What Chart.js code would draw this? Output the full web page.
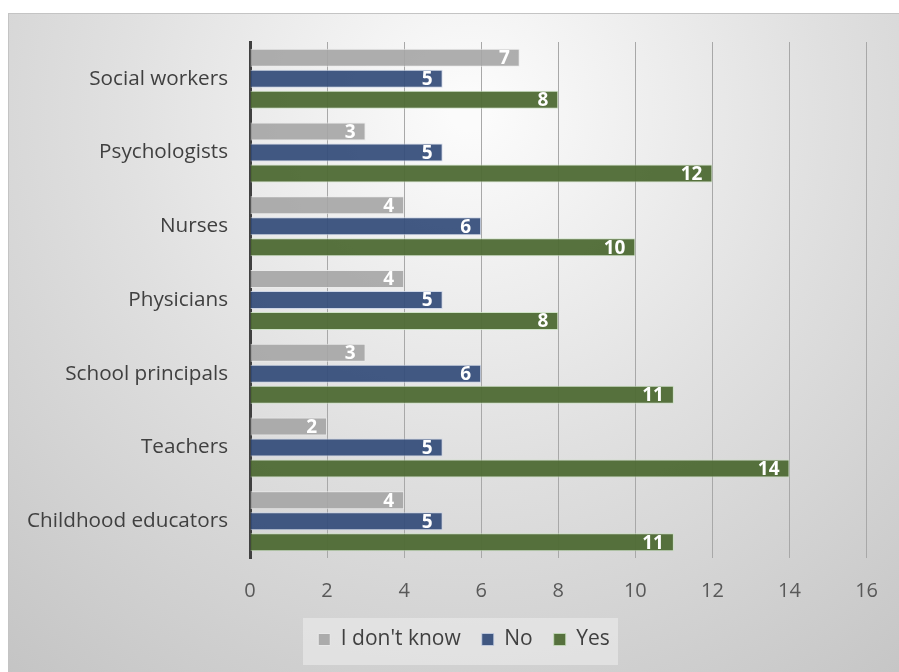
<!DOCTYPE html>
<html>
<head>
<meta charset="utf-8">
<script src="https://cdn.jsdelivr.net/npm/chart.js@4.4.1/dist/chart.umd.min.js"></script>
<style>
html,body{margin:0;padding:0;background:#fff;}
#wrap{width:899px;height:672px;position:relative;}
</style>
</head>
<body>
<div id="wrap"><canvas id="c" width="899" height="672"></canvas></div>
<script>
const categories = ["Social workers","Psychologists","Nurses","Physicians","School principals","Teachers","Childhood educators"];
const dontKnow = [7,3,4,4,3,2,4];
const noVals = [5,5,6,5,6,5,5];
const yesVals = [8,12,10,8,11,14,11];
const xTicks = [0,2,4,6,8,10,12,14,16];

const bgPlugin = {
  id:'bg',
  afterLayout(chart){
    if(chart.legend){ chart.legend.left += 25; chart.legend.right += 25; }
  },
  beforeDraw(chart){
    const ctx = chart.ctx;
    ctx.save();
    ctx.fillStyle='#ffffff';
    ctx.fillRect(0,0,chart.width,chart.height);
    const g = ctx.createRadialGradient(470,110,20,470,110,760);
    g.addColorStop(0,'#fbfbfb');
    g.addColorStop(0.45,'#e0e0e0');
    g.addColorStop(1,'#c2c2c2');
    ctx.fillStyle=g;
    ctx.fillRect(8,13,chart.width-8,chart.height-13);
    ctx.strokeStyle='#c4c4c4';
    ctx.lineWidth=1;
    ctx.strokeRect(8.5,13.5,chart.width,chart.height);
    ctx.fillStyle='rgba(232,232,232,0.7)';
    ctx.fillRect(303,618,315,47);
    ctx.restore();
  }
};

const labelPlugin = {
  id:'vals',
  afterDatasetsDraw(chart){
    const ctx = chart.ctx;
    ctx.save();
    ctx.font = 'bold 19px "Open Sans"';
    ctx.fillStyle = '#ffffff';
    ctx.textAlign = 'right';
    ctx.textBaseline = 'middle';
    chart.data.datasets.forEach((ds,i)=>{
      const meta = chart.getDatasetMeta(i);
      meta.data.forEach((el,j)=>{
        ctx.fillText(String(ds.data[j]), el.x-10, el.y+1);
      });
    });
    ctx.restore();
  }
};

new Chart(document.getElementById('c'),{
  type:'bar',
  data:{
    labels:categories,
    datasets:[
      {label:"I don't know",data:dontKnow,backgroundColor:'rgba(165,165,165,0.9)',borderColor:'rgba(235,235,235,0.9)',borderWidth:1},
      {label:'No',data:noVals,backgroundColor:'rgba(52,76,122,0.93)',borderColor:'rgba(200,210,230,0.8)',borderWidth:1},
      {label:'Yes',data:yesVals,backgroundColor:'rgba(78,106,52,0.95)',borderColor:'rgba(200,225,190,0.8)',borderWidth:1}
    ]
  },
  options:{
    indexAxis:'y',
    responsive:false,
    animation:false,
    devicePixelRatio:1,
    categoryPercentage:0.855,
    barPercentage:0.857,
    layout:{padding:{left:8,top:42,right:29,bottom:12}},
    plugins:{
      tooltip:{enabled:false},
      legend:{
        position:'bottom',
        labels:{
          boxWidth:12,boxHeight:12,padding:21,
          color:'#404040',
          font:{family:'Open Sans',size:21}
        }
      }
    },
    scales:{
      x:{
        min:0,max:16,
        afterBuildTicks(scale){ scale.ticks = xTicks.map(v=>({value:v})); },
        afterFit(scale){ scale.height = 50; },
        border:{display:false},
        grid:{
          color:(c)=> c.tick && c.tick.value===0 ? 'rgba(0,0,0,0)' : '#a8a8a8',
          lineWidth:1,
          tickLength:0,
          drawTicks:false
        },
        ticks:{color:'#595959',font:{family:'Open Sans',size:20},padding:21}
      },
      y:{
        afterFit(scale){ scale.width = 242; },
        border:{display:true,color:'#404040',width:3},
        grid:{display:false,drawTicks:false,tickLength:0},
        ticks:{color:'#404040',font:{family:'Open Sans',size:20.7},padding:22}
      }
    }
  },
  plugins:[bgPlugin,labelPlugin]
});
</script>
</body>
</html>
